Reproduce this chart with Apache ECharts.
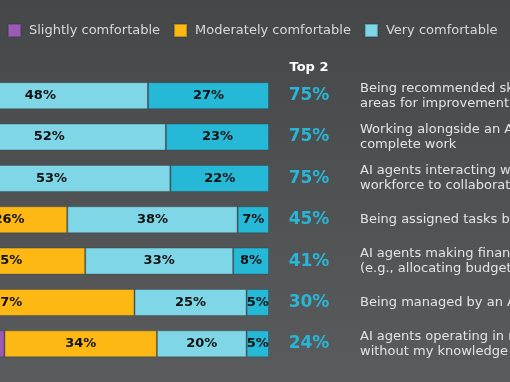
<!DOCTYPE html>
<html>
<head>
<meta charset="utf-8">
<script src="https://cdn.jsdelivr.net/npm/echarts@6/dist/echarts.min.js"></script>
<style>
html,body{margin:0;padding:0;overflow:hidden;background:#4f5052;}
#chart{width:510px;height:382px;}
</style>
</head>
<body>
<div id="chart"></div>
<script>
// Categories (top to bottom)
const categories = [
  'Being recommended skills or\nareas for improvement',
  'Working alongside an AI agent to\ncomplete work',
  'AI agents interacting with my\nworkforce to collaborate',
  'Being assigned tasks by an AI agent',
  'AI agents making financial decisions\n(e.g., allocating budgets)',
  'Being managed by an AI agent',
  'AI agents operating in my workplace\nwithout my knowledge'
];
// Series values (%)
const slightly   = [8, 7, 7, 29, 24, 13, 41];
const moderately = [17, 18, 18, 26, 35, 57, 34];
const very       = [48, 52, 53, 38, 33, 25, 20];
const extremely  = [27, 23, 22, 7, 8, 5, 5];
const top2       = [75, 75, 75, 45, 41, 30, 24];
const headerText = 'Top 2';
const seriesNames = ['Slightly comfortable', 'Moderately comfortable', 'Very comfortable', 'Extremely comfortable'];
const seriesColors = ['#9c59b6', '#fdb813', '#7fd6e6', '#25b9d7'];
const seriesData = [slightly, moderately, very, extremely];

const chart = echarts.init(document.getElementById('chart'));
const FONT = '"DejaVu Sans", sans-serif';

const legendRich = {
  a: {width: 137, padding: [0,0,0,3], fontSize: 13, color: '#d9d9d9', fontFamily: FONT},
  b: {width: 162, padding: [0,0,0,3], fontSize: 13, color: '#d9d9d9', fontFamily: FONT},
  c: {width: 120, padding: [0,0,0,3], fontSize: 13, color: '#d9d9d9', fontFamily: FONT},
  d: {width: 150, padding: [0,0,0,3], fontSize: 13, color: '#d9d9d9', fontFamily: FONT}
};
const legendKeys = ['a','b','c','d'];

chart.setOption({
  backgroundColor: {
    type: 'linear', x: 0, y: 0, x2: 0, y2: 1,
    colorStops: [{offset: 0, color: '#464749'}, {offset: 1, color: '#5a5b5d'}]
  },
  animation: false,
  graphic: [{
    type: 'text', x: 309, y: 68,
    style: {
      text: headerText, textAlign: 'center', textVerticalAlign: 'middle',
      fill: '#ffffff', fontSize: 13, fontWeight: 'bold', fontFamily: FONT
    }
  }],
  legend: {
    data: seriesNames,
    left: 2, top: 18, width: 900,
    itemWidth: 13, itemHeight: 13, itemGap: 13,
    icon: 'rect',
    formatter: function (name) {
      const i = seriesNames.indexOf(name);
      return '{' + legendKeys[i] + '|' + name + '}';
    },
    textStyle: {rich: legendRich, color: '#d9d9d9', fontSize: 13, fontFamily: FONT}
  },
  grid: {left: 0, right: 241, top: 75, height: 289.5, containLabel: false, outerBoundsMode: 'none'},
  xAxis: {type: 'value', min: 40, max: 100, show: false},
  yAxis: [
    {type: 'category', data: categories, inverse: true, show: false},
    {
      type: 'category', data: categories, inverse: true, position: 'right',
      axisLine: {show: false}, axisTick: {show: false},
      axisLabel: {
        interval: 0, margin: 40, align: 'center',
        formatter: function (v, i) { return top2[i] + '%'; },
        color: '#29b6d6', fontSize: 17, fontWeight: 'bold', fontFamily: FONT,
        padding: [2, 0, 0, 0]
      }
    },
    {
      type: 'category', data: categories, inverse: true, position: 'right',
      axisLine: {show: false}, axisTick: {show: false},
      axisLabel: {
        interval: 0, margin: 91, align: 'left',
        color: '#e3e3e3', fontSize: 13, lineHeight: 15, fontFamily: FONT
      }
    }
  ],
  series: seriesData.map(function (d, k) {
    return {
      name: seriesNames[k], type: 'bar', stack: 'total', data: d,
      barWidth: 27, clip: false,
      itemStyle: {color: seriesColors[k], borderColor: 'rgba(40,60,70,0.35)', borderWidth: 1},
      label: {
        show: true, position: 'inside', formatter: '{c}%',
        color: '#111111', fontSize: 13, fontWeight: 'bold', fontFamily: FONT
      }
    };
  })
});
</script>
</body>
</html>
